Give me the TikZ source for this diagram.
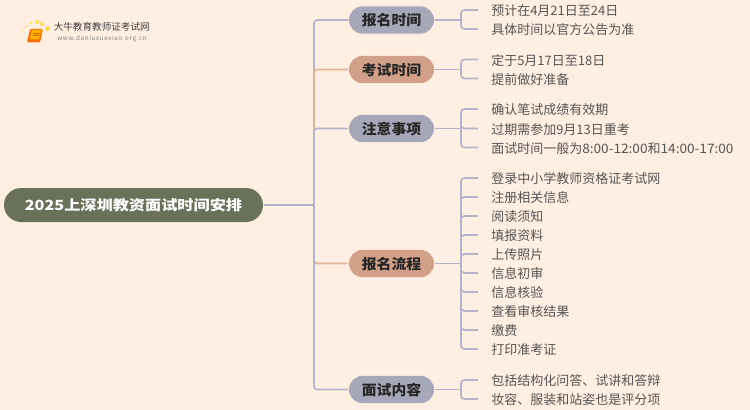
\documentclass[tikz,border=0pt]{standalone}
\usepackage{fontspec}
\setmainfont{Noto Sans CJK SC}
\newfontfamily\stretchroot[FakeStretch=1.155]{Noto Sans CJK SC}
\newfontfamily\stretchpill[FakeStretch=1.05]{Noto Sans CJK SC}
\newfontfamily\stretchdig[FakeStretch=1.05]{Noto Sans CJK SC}
\usetikzlibrary{shapes.misc}
\definecolor{bgc}{HTML}{FFEEE2}
\definecolor{lav}{HTML}{A7A7BA}
\definecolor{ora}{HTML}{D2A088}
\definecolor{rootc}{HTML}{6A7159}
\definecolor{linec}{HTML}{B3B3CB}
\definecolor{orl}{HTML}{E3B497}
\definecolor{leaft}{HTML}{555555}
\tikzset{
  x=0.75pt,y=-0.75pt,
  pillbase/.style={rounded rectangle,minimum height=20.5pt,minimum width=63.75pt,inner sep=0pt,outer sep=0.75pt,text height=9.7pt,text depth=1.3pt,font=\stretchpill\fontsize{10.6pt}{12pt}\selectfont\bfseries,text=black!85},
  lavpill/.style={pillbase,fill=lav},
  orapill/.style={pillbase,fill=ora},
  rootpill/.style={rounded rectangle,fill=rootc,text=white,minimum height=25.5pt,minimum width=194.25pt,inner sep=0pt,outer sep=0.75pt,text height=9.6pt,text depth=1.3pt,font=\stretchroot\fontsize{10.5pt}{12pt}\selectfont\bfseries},
  leaf/.style={anchor=west,inner xsep=9.75pt,inner ysep=0pt,text height=9.8pt,text depth=1.3pt,text=leaft,font=\fontsize{9.75pt}{11pt}\selectfont},
  conn/.style={draw=linec,line width=1.2pt,rounded corners=2.5pt},
  connor/.style={draw=orl,line width=1.2pt,rounded corners=2.5pt},
  dot/.style={circle,fill=#1,inner sep=0pt}
}
\begin{document}
\begin{tikzpicture}
\useasboundingbox[fill=bgc] (0,0) rectangle (750,410);
% logo
\node[dot=yellow!70!orange!75,minimum size=3.6pt] (d1) at (47.5,28.7) {};
\node[dot=yellow!70!orange!70,minimum size=3pt] (d2) at (42,24) {};
\node[dot=yellow!70!orange!70,minimum size=3pt] (d3) at (37,22) {};
\node[dot=yellow!70!orange!60,minimum size=2.6pt] (d4) at (31,23) {};
\node[dot=yellow!60!orange!45,minimum size=2.2pt] (d5) at (26,26.5) {};
\node[dot=yellow!60!orange!35,minimum size=2pt] (d6) at (22.5,31) {};
\node[dot=yellow!60!orange!30,minimum size=1.6pt] (d7) at (21.5,37) {};
\node[dot=yellow!60!orange!25,minimum size=1.3pt] (d8) at (23.5,42) {};
\fill[orange!85!red,rounded corners=1pt] (30,29) -- (43,29) -- (40,42.5) -- (27,42.5) -- cycle;
\fill[orange!60!yellow] (32,30) -- (41.5,30) -- (39,39.5) -- (29.5,39.5) -- cycle;
\draw[orange!80!black,line width=0.5pt] (33,33) -- (39.5,33) (32.5,35.5) -- (39,35.5);
\node[inner sep=0pt,anchor=west,text=black!75,font=\fontsize{7.2pt}{8pt}\selectfont] (logot) at (53.5,27) {大牛教育教师证考试网};
\node[inner sep=0pt,anchor=west,text=black!50,font=\fontsize{4.7pt}{6pt}\selectfont] (logou) at (57,39) {\addfontfeatures{LetterSpace=10}www.daniuxuexiao.org.cn};
% nodes
\node[rootpill] (root) at (133.5,205) {2025上深圳教资面试时间安排};
\node[lavpill] (b1) at (391.5,20) {报名时间};
\node[orapill] (b2) at (391.5,69.5) {考试时间};
\node[lavpill] (b3) at (391.5,128.5) {注意事项};
\node[orapill] (b4) at (391.5,263.5) {报名流程};
\node[lavpill] (b5) at (391.5,389.5) {面试内容};
\coordinate (rj) at (314,205);
\node[leaf] (l11) at (478,10) {预计在4月21日至24日};
\node[leaf] (l12) at (478,29) {具体时间以官方公告为准};
\node[leaf] (l21) at (478,59.5) {定于5月17日至18日};
\node[leaf] (l22) at (478,78.5) {提前做好准备};
\node[leaf] (l31) at (478,109) {确认笔试成绩有效期};
\node[leaf] (l32) at (478,128.5) {过期需参加9月13日重考};
\node[leaf] (l33) at (478,147.5) {面试时间一般为{\stretchdig 8:00-12:00}和{\stretchdig 14:00-17:00}};
\node[leaf] (l41) at (478,178) {登录中小学教师资格证考试网};
\node[leaf] (l42) at (478,197) {注册相关信息};
\node[leaf] (l43) at (478,216) {阅读须知};
\node[leaf] (l44) at (478,235) {填报资料};
\node[leaf] (l45) at (478,254) {上传照片};
\node[leaf] (l46) at (478,273) {信息初审};
\node[leaf] (l47) at (478,292) {信息核验};
\node[leaf] (l48) at (478,311) {查看审核结果};
\node[leaf] (l49) at (478,330) {缴费};
\node[leaf] (l410) at (478,349) {打印准考证};
\node[leaf] (l51) at (478,380) {包括结构化问答、试讲和答辩};
\node[leaf] (l52) at (478,399) {妆容、服装和站姿也是评分项};
\coordinate (j1) at (461,20);
\coordinate (j2) at (461,69.5);
\coordinate (j3) at (461,128.5);
\coordinate (j4) at (461,263.5);
\coordinate (j5) at (461,389.5);
% trunk
\draw[conn] (rj) |- (b1.west);
\draw[connor] (rj) |- (b2.west);
\draw[conn] (rj) |- (b3.west);
\draw[connor] (rj) |- (b4.west);
\draw[conn] (rj) |- (b5.west);
\draw[conn] (root.east) -- (rj);
% branches
\draw[conn] (b1.east) -- (j1);
\foreach \n in {l11,l12} \draw[conn] (j1) |- (\n.west);
\draw[conn] (b2.east) -- (j2);
\foreach \n in {l21,l22} \draw[conn] (j2) |- (\n.west);
\draw[conn] (b3.east) -- (j3);
\foreach \n in {l31,l32,l33} \draw[conn] (j3) |- (\n.west);
\draw[conn] (b4.east) -- (j4);
\foreach \n in {l41,l42,l43,l44,l45,l46,l47,l48,l49,l410} \draw[conn] (j4) |- (\n.west);
\draw[conn] (b5.east) -- (j5);
\foreach \n in {l51,l52} \draw[conn] (j5) |- (\n.west);
\end{tikzpicture}
\end{document}
